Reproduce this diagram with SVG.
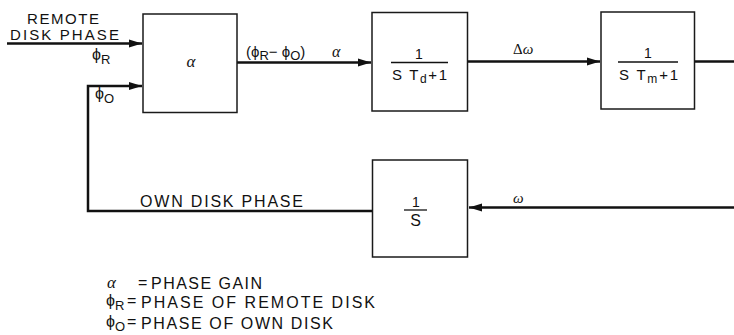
<svg xmlns="http://www.w3.org/2000/svg" width="734" height="335" viewBox="0 0 734 335">
<style>
.box{fill:#fff;stroke:#1a1a1a;stroke-width:1.5}
.wire{fill:none;stroke:#111;stroke-width:2.5}
.t{font-family:"Liberation Sans",Arial,sans-serif;fill:#111}
.g{font-family:"Liberation Serif","Times New Roman",serif;fill:#111;font-style:italic}
.lab{font-size:15px}
.leg{font-size:16px}
.num{font-size:14px;text-anchor:middle}
.den{font-size:15px}
.bar{stroke:#111;stroke-width:1.3}
</style>
<defs>
<marker id="ah" markerUnits="userSpaceOnUse" markerWidth="14" markerHeight="10" refX="13" refY="5" orient="auto">
<path d="M0,1 L13,5 L0,9 Z" fill="#111"/>
</marker>
</defs>
<rect width="734" height="335" fill="#fff"/>

<g id="connectors">
<path class="wire" d="M7,43.5 H142" marker-end="url(#ah)"/>
<path class="wire" d="M372,211 H88 V86 H142" marker-end="url(#ah)"/>
<path class="wire" d="M237,62.5 H371" marker-end="url(#ah)"/>
<path class="wire" d="M467,61.5 H600" marker-end="url(#ah)"/>
<path class="wire" d="M694,61.5 H734"/>
<path class="wire" d="M734,207.5 H469" marker-end="url(#ah)"/>
</g>

<g id="node-alpha">
<rect class="box" x="143" y="14" width="94" height="98.5"/>
<text class="g" x="191" y="67" font-size="17" text-anchor="middle">α</text>
</g>

<g id="node-td">
<rect class="box" x="372" y="12.5" width="95.5" height="98.5"/>
<text class="t num" x="419" y="58.5">1</text>
<line class="bar" x1="391" y1="62.5" x2="448" y2="62.5"/>
<text class="t den" x="392" y="79.5" textLength="55" lengthAdjust="spacing">S T<tspan font-size="12" dy="3">d</tspan><tspan dy="-3">+1</tspan></text>
</g>

<g id="node-tm">
<rect class="box" x="601" y="12" width="93.5" height="97"/>
<text class="t num" x="648" y="58">1</text>
<line class="bar" x1="618" y1="62" x2="678" y2="62"/>
<text class="t den" x="619" y="80" textLength="59" lengthAdjust="spacing">S T<tspan font-size="12" dy="3">m</tspan><tspan dy="-3">+1</tspan></text>
</g>

<g id="node-s">
<rect class="box" x="372.5" y="160" width="95" height="97"/>
<text class="t num" x="416" y="206.5">1</text>
<line class="bar" x1="404" y1="210" x2="427" y2="210"/>
<text class="t" x="415.5" y="226" font-size="16" text-anchor="middle">S</text>
</g>

<g id="labels">
<text class="t lab" x="27" y="24" textLength="72" lengthAdjust="spacing">REMOTE</text>
<text class="t lab" x="10" y="39.5" textLength="109" lengthAdjust="spacing">DISK PHASE</text>
<text class="t" x="92" y="60" font-size="16">ϕ<tspan font-size="13" dy="4">R</tspan></text>
<text class="t" x="95" y="99" font-size="16">ϕ<tspan font-size="13" dy="4">O</tspan></text>
<text class="t" x="246" y="57" font-size="15">(ϕ<tspan font-size="13" dy="2.5">R</tspan><tspan dy="-2.5">− ϕ</tspan><tspan font-size="13" dy="2.5">O</tspan><tspan dy="-2.5">)</tspan></text>
<text class="g" x="332" y="57" font-size="16">α</text>
<text class="g" x="513" y="54" font-size="15"><tspan font-style="normal">Δ</tspan>ω</text>
<text class="g" x="513" y="203" font-size="15">ω</text>
<text class="t" x="140" y="206.5" font-size="16" textLength="163" lengthAdjust="spacing">OWN DISK PHASE</text>
</g>

<g id="legend">
<text class="g" x="107" y="288" font-size="17">α</text>
<text class="t leg" x="138" y="288">=</text>
<text class="t leg" x="151" y="288.5" textLength="111" lengthAdjust="spacing">PHASE GAIN</text>
<text class="t" x="106" y="306" font-size="16">ϕ<tspan font-size="13" dy="4">R</tspan></text>
<text class="t leg" x="127" y="306">=</text>
<text class="t leg" x="141" y="308" textLength="234" lengthAdjust="spacing">PHASE OF REMOTE DISK</text>
<text class="t" x="106" y="327" font-size="16">ϕ<tspan font-size="13" dy="4">O</tspan></text>
<text class="t leg" x="127" y="327">=</text>
<text class="t leg" x="141" y="329" textLength="192" lengthAdjust="spacing">PHASE OF OWN DISK</text>
</g>
</svg>
